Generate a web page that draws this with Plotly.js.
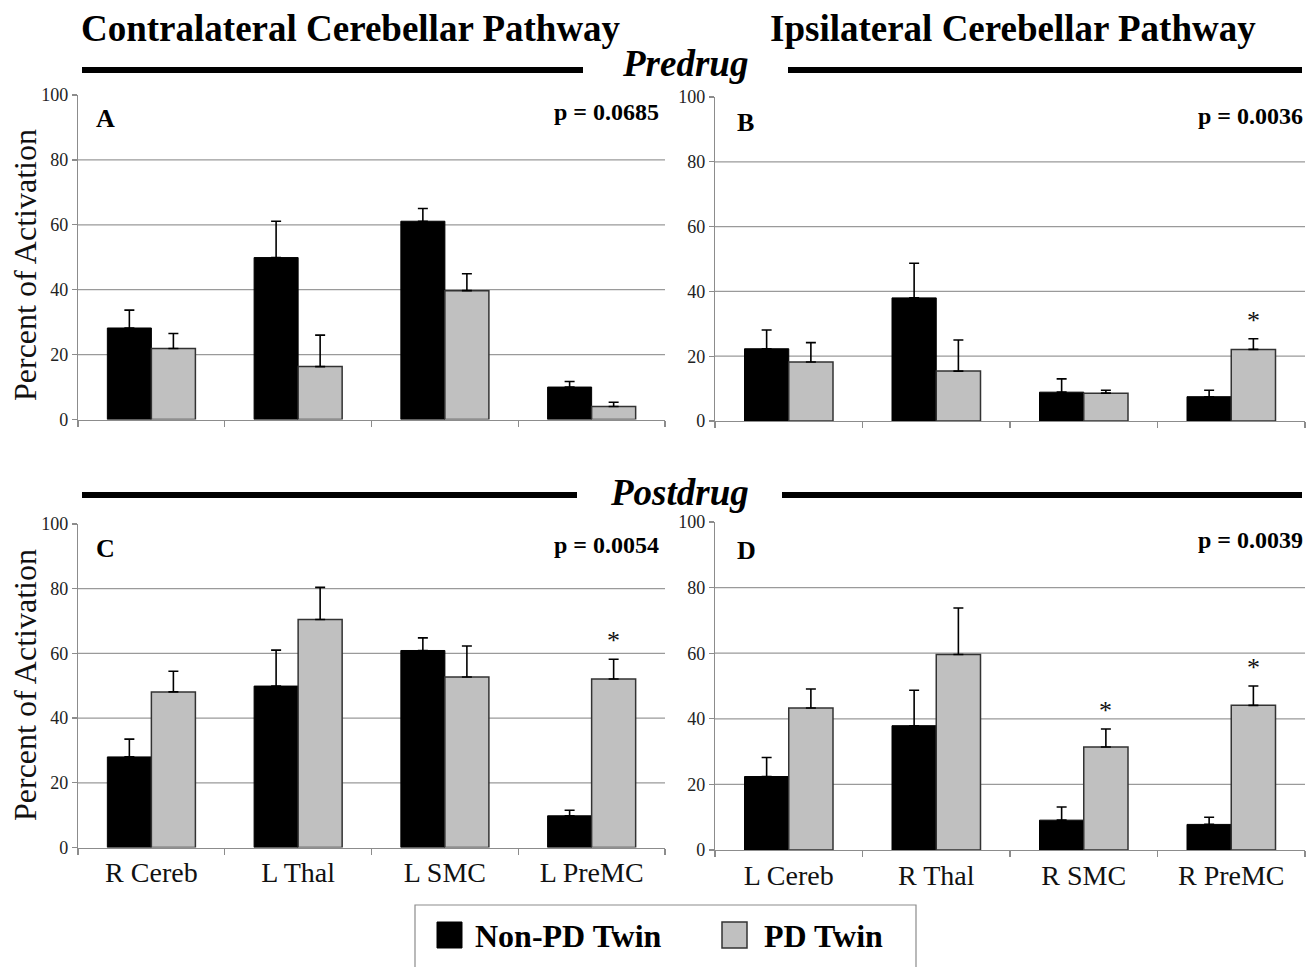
<!DOCTYPE html>
<html>
<head>
<meta charset="utf-8">
<script src="https://cdn.plot.ly/plotly-3.0.1.min.js"></script>
<style>html,body{margin:0;padding:0;background:#fff;}#chart{width:1316px;height:967px;}</style>
</head>
<body>
<div id="chart"></div>
<script>
// ---------- data ----------
var contraCats = ['R Cereb', 'L Thal', 'L SMC', 'L PreMC'];
var ipsiCats = ['L Cereb', 'R Thal', 'R SMC', 'R PreMC'];
var seriesNames = ['Non-PD Twin', 'PD Twin'];

// Panel A: Predrug, contralateral
var aNonPD = [28.2, 49.9, 61.1, 10.0];
var aNonPDErr = [5.5, 11.2, 3.9, 1.7];
var aPD = [21.9, 16.3, 39.7, 4.0];
var aPDErr = [4.6, 9.7, 5.2, 1.3];
var aSig = [false, false, false, false];

// Panel B: Predrug, ipsilateral
var bNonPD = [22.3, 38.0, 8.9, 7.5];
var bNonPDErr = [5.8, 10.7, 4.1, 2.0];
var bPD = [18.2, 15.4, 8.6, 22.1];
var bPDErr = [6.0, 9.6, 0.9, 3.3];
var bSig = [false, false, false, true];

// Panel C: Postdrug, contralateral
var cNonPD = [28.0, 49.9, 60.9, 9.8];
var cNonPDErr = [5.5, 11.1, 3.9, 1.7];
var cPD = [48.1, 70.5, 52.7, 52.1];
var cPDErr = [6.4, 9.9, 9.6, 6.1];
var cSig = [false, false, false, true];

// Panel D: Postdrug, ipsilateral
var dNonPD = [22.4, 37.9, 9.1, 7.8];
var dNonPDErr = [5.8, 10.8, 4.0, 2.2];
var dPD = [43.3, 59.6, 31.4, 44.1];
var dPDErr = [5.8, 14.2, 5.5, 5.9];
var dSig = [false, false, true, true];

var panelLetters = ['A', 'B', 'C', 'D'];
var pValues = ['p = 0.0685', 'p = 0.0036', 'p = 0.0054', 'p = 0.0039'];
var yTicks = [0, 20, 40, 60, 80, 100];
var gridVals = [20, 40, 60, 80];
var yTitle = 'Percent of Activation';
var pathwayTitles = ['Contralateral Cerebellar Pathway', 'Ipsilateral Cerebellar Pathway'];
var phaseTitles = ['Predrug', 'Postdrug'];

// ---------- layout helpers ----------
var W = 1316, H = 967;
function px(x) { return x / W; }
function py(y) { return 1 - y / H; }

var SERIF = '"Liberation Serif", "Times New Roman", serif';
var colNon = '#000000', colPD = '#c0c0c0';
var axisCol = '#8c8c8c';

var panels = [
  {cats: contraCats, non: aNonPD, nonE: aNonPDErr, pd: aPD, pdE: aPDErr, sig: aSig, xd: [78, 665], yd: [419.5, 95], labels: false},
  {cats: ipsiCats, non: bNonPD, nonE: bNonPDErr, pd: bPD, pdE: bPDErr, sig: bSig, xd: [715, 1305], yd: [421, 97], labels: false},
  {cats: contraCats, non: cNonPD, nonE: cNonPDErr, pd: cPD, pdE: cPDErr, sig: cSig, xd: [78, 665], yd: [847.5, 524], labels: true},
  {cats: ipsiCats, non: dNonPD, nonE: dNonPDErr, pd: dPD, pdE: dPDErr, sig: dSig, xd: [715, 1305], yd: [850, 522], labels: true}
];
var letterPos = [[94, 118], [735, 122], [94, 548], [735, 550]];
var pPos = [[661, 112], [1305, 116], [661, 545], [1305, 540]];

var traces = [];
var layout = {
  width: W, height: H,
  margin: {l: 0, r: 0, t: 0, b: 0},
  paper_bgcolor: '#ffffff', plot_bgcolor: '#ffffff',
  showlegend: false,
  barmode: 'group', bargap: 0.4, bargroupgap: 0,
  font: {family: SERIF, color: '#000'},
  shapes: [], annotations: []
};

panels.forEach(function (p, i) {
  var n = i === 0 ? '' : String(i + 1);
  var xa = 'x' + n, ya = 'y' + n;
  var zeros = p.cats.map(function () { return 0; });
  traces.push({
    type: 'bar', name: seriesNames[0], x: p.cats, y: p.non, xaxis: xa, yaxis: ya,
    marker: {color: colNon, line: {color: '#000', width: 1}},
    error_y: {type: 'data', symmetric: false, array: p.nonE, arrayminus: zeros, color: '#000', thickness: 1.6, width: 5}
  });
  traces.push({
    type: 'bar', name: seriesNames[1], x: p.cats, y: p.pd, xaxis: xa, yaxis: ya,
    marker: {color: colPD, line: {color: '#333', width: 1.5}},
    error_y: {type: 'data', symmetric: false, array: p.pdE, arrayminus: zeros, color: '#000', thickness: 1.6, width: 5}
  });
  layout['xaxis' + n] = {
    domain: [px(p.xd[0]), px(p.xd[1])], anchor: ya, type: 'category',
    showline: true, linecolor: axisCol, linewidth: 1.2,
    ticks: 'outside', tickson: 'boundaries', ticklen: 6, tickcolor: axisCol, tickwidth: 1.2,
    showgrid: false, zeroline: false, fixedrange: true,
    showticklabels: p.labels,
    tickfont: {family: SERIF, size: 28, color: '#111'}
  };
  layout['yaxis' + n] = {
    domain: [py(p.yd[0]), py(p.yd[1])], anchor: xa, range: [0, 100],
    tickvals: yTicks, ticktext: yTicks.map(String),
    showline: true, linecolor: axisCol, linewidth: 1.2,
    ticks: 'outside', ticklen: 5, tickcolor: axisCol, tickwidth: 1.2,
    showgrid: false, zeroline: false, fixedrange: true,
    tickfont: {family: SERIF, size: 18, color: '#222'}
  };
  gridVals.forEach(function (g) {
    layout.shapes.push({type: 'line', layer: 'below', xref: xa + ' domain', yref: ya,
      x0: 0, x1: 1, y0: g, y1: g, line: {color: '#9a9a9a', width: 1.2}});
  });
  // panel letter and p-value
  var dx = p.xd[1] - p.xd[0], dy = p.yd[0] - p.yd[1];
  layout.annotations.push({xref: xa + ' domain', yref: ya + ' domain',
    x: (letterPos[i][0] - p.xd[0]) / dx, y: (p.yd[0] - letterPos[i][1]) / dy,
    xanchor: 'left', yanchor: 'middle', showarrow: false, text: '<b>' + panelLetters[i] + '</b>',
    font: {family: SERIF, size: 26, color: '#000'}});
  layout.annotations.push({xref: xa + ' domain', yref: ya + ' domain',
    x: (pPos[i][0] - p.xd[0]) / dx, y: (p.yd[0] - pPos[i][1]) / dy,
    xanchor: 'right', yanchor: 'middle', showarrow: false, text: '<b>' + pValues[i] + '</b>',
    font: {family: SERIF, size: 24, color: '#000'}});
  // significance stars
  p.sig.forEach(function (s, k) {
    if (!s) return;
    layout.annotations.push({xref: xa, yref: ya, x: p.cats[k], y: p.pd[k] + p.pdE[k],
      xanchor: 'center', yanchor: 'bottom', xshift: 22, yshift: 2, showarrow: false, text: '*',
      font: {family: SERIF, size: 26, color: '#111'}});
  });
});

// y-axis titles (left panels)
[[25, 265], [25, 685]].forEach(function (pos) {
  layout.annotations.push({xref: 'paper', yref: 'paper', x: px(pos[0]), y: py(pos[1]),
    xanchor: 'center', yanchor: 'middle', textangle: -90, showarrow: false, text: yTitle,
    font: {family: SERIF, size: 32, color: '#111'}});
});

// header titles
layout.annotations.push({xref: 'paper', yref: 'paper', x: px(351), y: py(28), xanchor: 'center', yanchor: 'middle',
  showarrow: false, text: '<b>' + pathwayTitles[0] + '</b>', font: {family: SERIF, size: 37, color: '#000'}});
layout.annotations.push({xref: 'paper', yref: 'paper', x: px(1013), y: py(28), xanchor: 'center', yanchor: 'middle',
  showarrow: false, text: '<b>' + pathwayTitles[1] + '</b>', font: {family: SERIF, size: 37, color: '#000'}});
layout.annotations.push({xref: 'paper', yref: 'paper', x: px(685), y: py(64), xanchor: 'center', yanchor: 'middle',
  showarrow: false, text: '<b><i>' + phaseTitles[0] + '</i></b>', font: {family: SERIF, size: 37, color: '#000'}});
layout.annotations.push({xref: 'paper', yref: 'paper', x: px(679), y: py(492), xanchor: 'center', yanchor: 'middle',
  showarrow: false, text: '<b><i>' + phaseTitles[1] + '</i></b>', font: {family: SERIF, size: 37, color: '#000'}});

// thick rules beside phase titles
[[82, 583, 70], [788, 1302, 70], [82, 577, 495], [782, 1302, 495]].forEach(function (r) {
  layout.shapes.push({type: 'line', xref: 'paper', yref: 'paper', x0: px(r[0]), x1: px(r[1]), y0: py(r[2]), y1: py(r[2]),
    line: {color: '#000', width: 6}});
});

// legend (custom, large swatches)
layout.shapes.push({type: 'rect', xref: 'paper', yref: 'paper', x0: px(415), x1: px(916), y0: py(1000), y1: py(905),
  line: {color: '#8c8c8c', width: 1.2}, fillcolor: 'rgba(0,0,0,0)'});
layout.shapes.push({type: 'rect', xref: 'paper', yref: 'paper', x0: px(437), x1: px(462), y0: py(948), y1: py(922),
  line: {color: '#000', width: 1}, fillcolor: colNon});
layout.shapes.push({type: 'rect', xref: 'paper', yref: 'paper', x0: px(722), x1: px(747), y0: py(948), y1: py(922),
  line: {color: '#333', width: 1.5}, fillcolor: colPD});
layout.annotations.push({xref: 'paper', yref: 'paper', x: px(473), y: py(936), xanchor: 'left', yanchor: 'middle',
  showarrow: false, text: '<b>' + seriesNames[0] + '</b>', font: {family: SERIF, size: 32, color: '#000'}});
layout.annotations.push({xref: 'paper', yref: 'paper', x: px(762), y: py(936), xanchor: 'left', yanchor: 'middle',
  showarrow: false, text: '<b>' + seriesNames[1] + '</b>', font: {family: SERIF, size: 32, color: '#000'}});

Plotly.newPlot('chart', traces, layout, {displayModeBar: false, staticPlot: true});
</script>
</body>
</html>
